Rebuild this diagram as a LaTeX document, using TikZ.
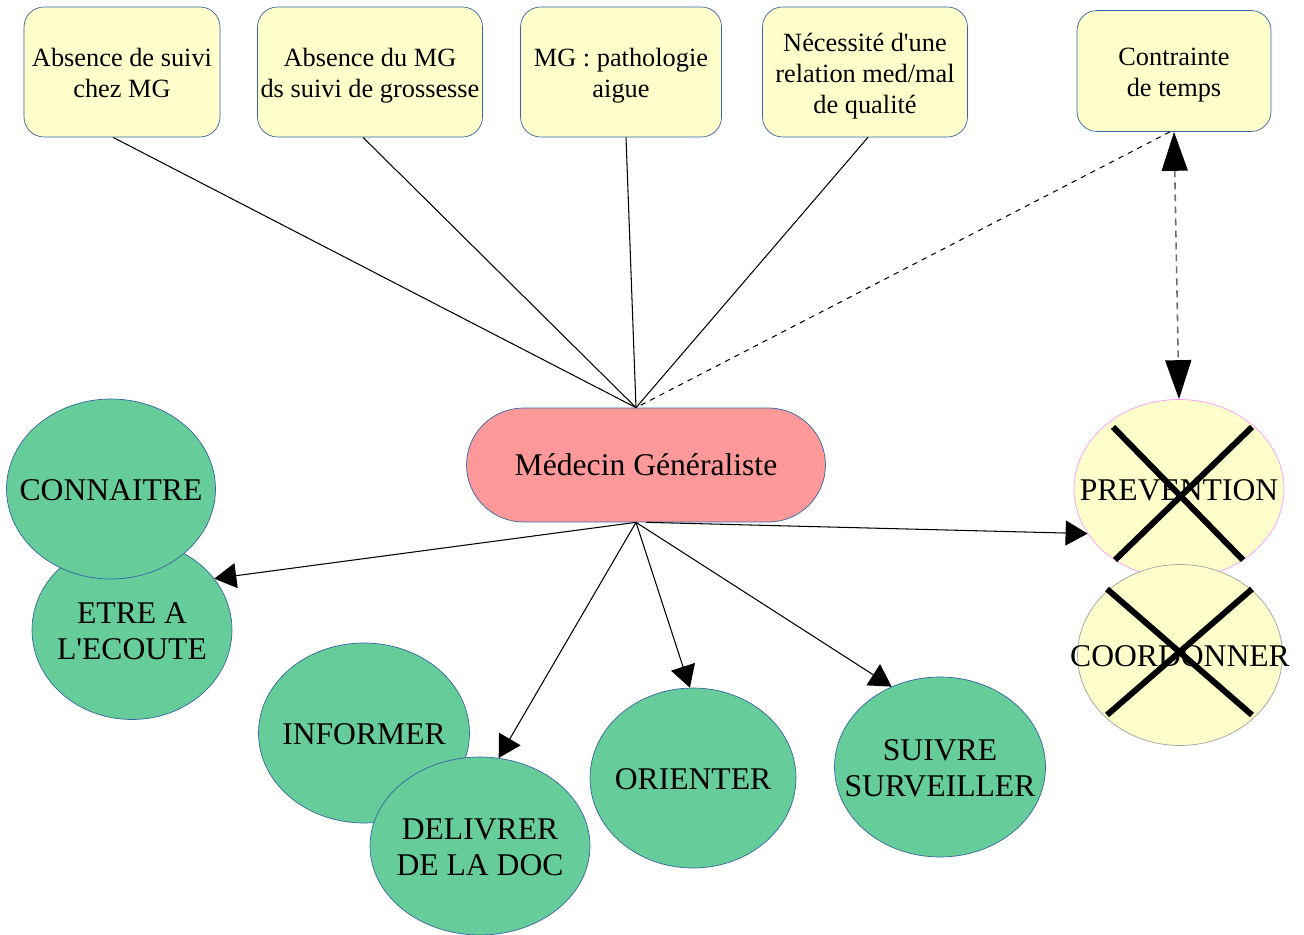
\documentclass[tikz,border=0pt]{standalone}
\usepackage{fontspec}
\setmainfont{Liberation Serif}[Ligatures=TeXOff]
\usepackage{xcolor}
\definecolor{BoxFill}{RGB}{255,255,204}
\definecolor{BoxBorder}{RGB}{52,101,164}
\definecolor{RoleFill}{RGB}{102,204,153}
\definecolor{MainFill}{RGB}{255,153,153}
\definecolor{PinkBorder}{RGB}{255,153,255}
\definecolor{GrayBorder}{RGB}{160,160,160}
\definecolor{LinkGray}{RGB}{110,110,110}
\usetikzlibrary{
  arrows.meta,
  shapes.geometric,
  calc
}
\tikzset{
  % Factor box (top row)
  factor/.style={
    rectangle,
    rounded corners=0.4cm,
    draw=BoxBorder,
    fill=BoxFill,
    minimum height=2.6cm,
    inner sep=0pt,
    font=\fontsize{15}{17.6}\selectfont
  },
  % Central node
  mgnode/.style={
    rectangle,
    rounded corners=1.14cm,
    draw=BoxBorder,
    fill=MainFill,
    minimum width=7.18cm,
    minimum height=2.28cm,
    font=\fontsize{18}{20.5}\selectfont
  },
  % Role bubble
  role/.style={
    ellipse,
    draw=BoxBorder,
    fill=RoleFill,
    minimum width=4.2cm,
    minimum height=3.6cm,
    inner sep=0pt,
    font=\fontsize{18}{20.5}\selectfont
  },
  % Rejected role
  xrole/.style={role, fill=BoxFill},
  % Plain link
  link/.style={draw=black, line width=0.6pt},
  % Link with arrow
  dlink/.style={link, -{Triangle[length=0.44cm, width=0.5cm]}},
  % Double dashed arrow
  ddlink/.style={
    draw=LinkGray,
    line width=0.9pt,
    dash pattern=on 0.14cm off 0.1cm,
    {Triangle[length=0.78cm, width=0.52cm, black]}-{Triangle[length=0.78cm, width=0.52cm, black]}
  },
  % Cross over a role
  xcross/.style={draw=black, line width=3.4pt}
}
\newcommand{\boxtext}[1]{\vbox{\vskip0.16cm\hbox{\begin{tabular}{@{}c@{}}#1\end{tabular}}}}
\newcommand{\roletext}[1]{\makebox[0pt]{\boxtext{#1}}}

\begin{document}
\begin{tikzpicture}[x=0.02cm, y=-0.02cm]
  \useasboundingbox (0,0) rectangle (1304,935);
  % Factors
  \node[factor, minimum width=3.92cm] (absuivi) at (122,72) {\boxtext{Absence de suivi\\chez MG}};
  \node[factor, minimum width=4.5cm] (absgross) at (370,72) {\boxtext{Absence du MG\\ds suivi de grossesse}};
  \node[factor, minimum width=4.02cm] (pathaigue) at (621,72) {\boxtext{MG : pathologie\\aigue}};
  \node[factor, minimum width=4.1cm] (relation) at (865,72) {\boxtext{N\'ecessit\'e d'une\\relation med/mal\\de qualit\'e}};
  \node[factor, minimum width=3.88cm, minimum height=2.42cm] (temps) at (1174,71) {\boxtext{Contrainte\\de temps}};
  % Central node
  \node[mgnode] (mg) at (646,465) {M\'edecin G\'en\'eraliste};
  \coordinate (mgtop) at ([xshift=-0.2cm]mg.north);
  \coordinate (mgbot) at ([xshift=-0.2cm]mg.south);
  % Factor links
  \foreach \f/\dx in {absuivi/-0.18, absgross/-0.14, pathaigue/0.1, relation/0.06} {
    \draw[link] ([xshift=\dx cm]\f.south) -- (mgtop);
  }
  \draw[link, dashed] ([xshift=-0.08cm]temps.south) -- (mgtop);
  % Roles
  \node[role, minimum width=4.0cm, minimum height=3.58cm] (ecoute) at (132,630) {\roletext{ETRE A\\L'ECOUTE}};
  \node[role, minimum width=4.18cm] (connaitre) at (111,489) {\roletext{CONNAITRE}};
  \node[role, minimum width=4.22cm] (informer) at (364,733) {\roletext{INFORMER}};
  \node[role, minimum width=4.4cm, minimum height=3.56cm] (delivrer) at (480,846) {\roletext{DELIVRER\\DE LA DOC}};
  \node[role, minimum width=4.12cm] (orienter) at (693,778) {\roletext{ORIENTER}};
  \node[role, minimum width=4.22cm] (suivre) at (940,767) {\roletext{SUIVRE\\SURVEILLER}};
  \node[xrole, draw=PinkBorder, minimum height=3.58cm] (prevention) at (1179,489) {\roletext{PREVENTION}};
  \node[xrole, draw=GrayBorder, minimum width=4.1cm, minimum height=3.62cm] (coordonner) at (1180,655) {\roletext{COORDONNER}};
  % Role arrows
  \foreach \r/\a in {ecoute/32, delivrer/78, orienter/92, suivre/121} {
    \draw[dlink] (mgbot) -- (\r.\a);
  }
  \draw[dlink] (mg.south) -- (prevention.206);
  \draw[ddlink] (temps.south) -- (prevention.north);
  % Crossed out roles
  \draw[xcross] ($(prevention)+(-66,-62)$) -- ($(prevention)+(64,71)$);
  \draw[xcross] ($(prevention)+(73,-62)$) -- ($(prevention)+(-64,71)$);
  \draw[xcross] ($(coordonner)+(-73,-66)$) -- ($(coordonner)+(72,60)$);
  \draw[xcross] ($(coordonner)+(72,-66)$) -- ($(coordonner)+(-73,60)$);
\end{tikzpicture}
\end{document}
